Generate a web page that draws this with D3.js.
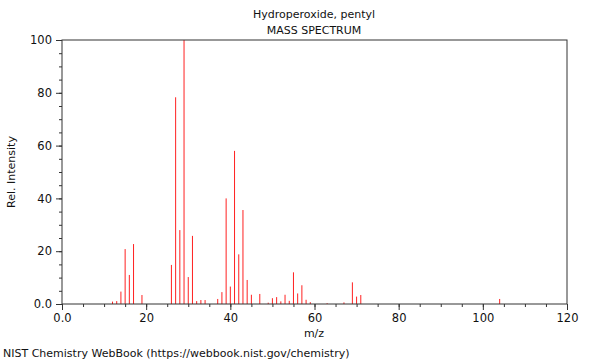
<!DOCTYPE html>
<html><head><meta charset="utf-8">
<script src="https://cdn.jsdelivr.net/npm/d3@7"></script>
<style>body{margin:0;background:#fff}svg{display:block}text{font-family:"DejaVu Sans",sans-serif;fill:#111}</style>
</head><body>
<script>
const titleLines = ["Hydroperoxide, pentyl", "MASS SPECTRUM"];
const mz = [12,13,14,15,16,17,19,26,27,28,29,30,31,32,33,34,37,38,39,40,41,42,43,44,45,47,49,50,51,52,53,54,55,56,57,58,59,63,67,69,70,71,104];
const intensity = [0.9,1.1,4.7,20.8,11,22.7,3.4,14.8,78.3,28,100,10.2,25.8,1.1,1.5,1.5,1.9,4.5,40,6.6,58,18.8,35.6,9.1,3.5,3.8,0.5,2.2,2.6,1,3.5,1.2,12,4,7.1,1.6,0.7,0.3,0.6,8.2,2.8,3.4,1.9];
const xMajor = [0,20,40,60,80,100,120];
const yMajor = [0,20,40,60,80,100];
const xLabel = "m/z", yLabel = "Rel. Intensity";
const footer = "NIST Chemistry WebBook (https://webbook.nist.gov/chemistry)";

const W=600,H=360,L=62,R=567,T=40,B=304;
const svg=d3.select("body").append("svg").attr("width",W).attr("height",H);
const x=d3.scaleLinear().domain([0,120]).range([L,R]);
const y=d3.scaleLinear().domain([0,100]).range([B,T]);
const fmt=d=>d===0?"0.0":String(d);
const axCol="#333";

// bars
svg.append("g").selectAll("line").data(mz).join("line")
  .attr("x1",(d)=>x(d)).attr("x2",(d)=>x(d))
  .attr("y1",y(0)).attr("y2",(d,i)=>y(intensity[i]))
  .attr("stroke","#ff2020").attr("stroke-width",1);

// frame
svg.append("rect").attr("x",L).attr("y",T).attr("width",R-L).attr("height",B-T)
  .attr("fill","none").attr("stroke",axCol).attr("stroke-width",1);

// minor ticks
const gxm=svg.append("g").attr("transform",`translate(0,${B})`)
  .call(d3.axisBottom(x).tickValues(d3.range(0,121,5)).tickSize(3).tickFormat(""));
const gym=svg.append("g").attr("transform",`translate(${L},0)`)
  .call(d3.axisLeft(y).tickValues(d3.range(0,101,5)).tickSize(3).tickFormat(""));
// major
const gx=svg.append("g").attr("transform",`translate(0,${B})`)
  .call(d3.axisBottom(x).tickValues(xMajor).tickSize(6).tickPadding(4).tickFormat(fmt));
const gy=svg.append("g").attr("transform",`translate(${L},0)`)
  .call(d3.axisLeft(y).tickValues(yMajor).tickSize(6).tickPadding(4).tickFormat(fmt));
[gxm,gym,gx,gy].forEach(g=>{g.select(".domain").remove();g.selectAll("line").attr("stroke",axCol);
  g.selectAll("text").attr("font-family","DejaVu Sans").attr("font-size",11.5).attr("fill","#111");});

svg.append("text").attr("x",314).attr("y",18).attr("text-anchor","middle").attr("font-size",11).text(titleLines[0]);
svg.append("text").attr("x",314).attr("y",34).attr("text-anchor","middle").attr("font-size",11).text(titleLines[1]);
svg.append("text").attr("x",314).attr("y",337).attr("text-anchor","middle").attr("font-size",11).text(xLabel);
svg.append("text").attr("transform","translate(15,172) rotate(-90)").attr("text-anchor","middle").attr("font-size",11).text(yLabel);
svg.append("text").attr("x",3).attr("y",357).attr("font-size",11).text(footer);
</script>
</body></html>
